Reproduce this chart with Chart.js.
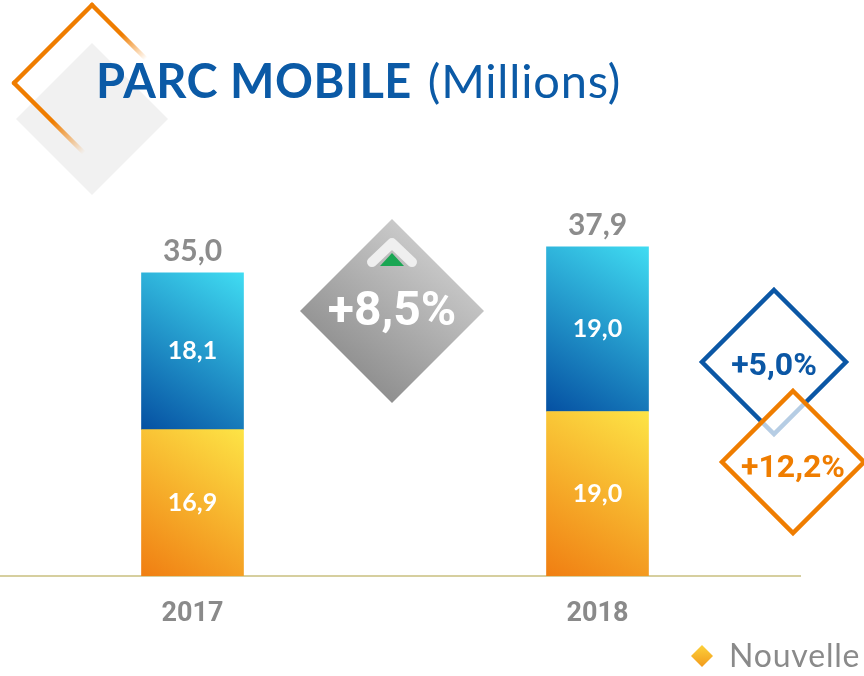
<!DOCTYPE html>
<html>
<head>
<meta charset="utf-8">
<script src="https://cdn.jsdelivr.net/npm/chart.js@4.4.1/dist/chart.umd.min.js"></script>
<style>
html, body { margin: 0; padding: 0; background: #fff; overflow: hidden; }
#wrap { position: relative; width: 864px; height: 676px; overflow: hidden; }
#parc { position: absolute; left: -10px; top: 0; }
.title { position: absolute; left: 96px; top: 57px; font-family: Lato, sans-serif; font-size: 47px; line-height: 47px; color: #0b5aa6; white-space: nowrap; }
.title b { font-weight: 700; letter-spacing: 0.5px; }
.title span { font-weight: 400; margin-left: 16px; letter-spacing: 0.8px; }
.pct { position: absolute; transform: translate(-50%, -50%); font-family: Roboto, sans-serif; font-weight: 700; white-space: nowrap; line-height: 1; }
.legend { position: absolute; left: 729px; top: 639px; font-family: Lato, sans-serif; font-size: 32px; line-height: 32px; color: #8a8a8a; white-space: nowrap; letter-spacing: 0.8px; }
</style>
</head>
<body>
<div id="wrap">
  <canvas id="parc" width="874" height="676"></canvas>
  <div class="title"><b>PARC MOBILE</b><span>(Millions)</span></div>
  <div class="pct" style="left:392px; top:309px; font-size:48px; color:#fff;">+8,5%</div>
  <div class="pct" style="left:774px; top:364px; font-size:32px; color:#0b57a5;">+5,0%</div>
  <div class="pct" style="left:793px; top:466px; font-size:32px; color:#ef7d00;">+12,2%</div>
  <div class="legend">Nouvelle</div>
</div>
<script>
// Data
const years = ['2017', '2018'];
const nouvelle = [16.9, 19.0];   // bottom segment (orange / yellow)
const existant = [18.1, 19.0];   // top segment (blue)
const totals = [35.0, 37.9];

function fmt(v) {
    return v.toFixed(1).replace('.', ',');
}

// Diagonal gradient for one bar segment, bottom-left -> top-right
function segGradient(context, colBottom, colTop) {
    const chart = context.chart;
    if (!chart.chartArea || !chart.scales.x) return colTop;
    const i = context.dataIndex;
    const ds = context.datasetIndex;
    const x = chart.scales.x.getPixelForValue(i);
    const yScale = chart.scales.y;
    const base = ds === 0 ? 0 : nouvelle[i];
    const top = ds === 0 ? nouvelle[i] : nouvelle[i] + existant[i];
    const g = chart.ctx.createLinearGradient(x - 51, yScale.getPixelForValue(base), x + 51, yScale.getPixelForValue(top));
    g.addColorStop(0, colBottom);
    g.addColorStop(1, colTop);
    return g;
}

// Diamond helper (page coordinates)
function diamondPath(ctx, cx, cy, r) {
    ctx.beginPath();
    ctx.moveTo(cx, cy - r);
    ctx.lineTo(cx + r, cy);
    ctx.lineTo(cx, cy + r);
    ctx.lineTo(cx - r, cy);
    ctx.closePath();
}

function fadeLine(ctx, x0, y0, x1, y1, color) {
    const g = ctx.createLinearGradient(x0, y0, x1, y1);
    g.addColorStop(0, color);
    g.addColorStop(0.55, color);
    g.addColorStop(1, 'rgba(239,125,0,0)');
    ctx.strokeStyle = g;
    ctx.beginPath();
    ctx.moveTo(x0, y0);
    ctx.lineTo(x1, y1);
    ctx.stroke();
}

const decorPlugin = {
    id: 'decor',
    afterDraw(chart) {
        const ctx = chart.ctx;
        ctx.save();
        ctx.translate(10, 0); // canvas is shifted 10px left

        // top-left light diamond
        ctx.fillStyle = '#f1f1f1';
        diamondPath(ctx, 92, 119, 76);
        ctx.fill();

        // orange outline fading out
        ctx.lineWidth = 4.5;
        ctx.lineCap = 'round';
        ctx.lineJoin = 'round';
        const orange = '#ef7d00';
        ctx.strokeStyle = orange;
        ctx.beginPath();
        ctx.moveTo(14, 83);
        ctx.lineTo(92, 5);
        ctx.stroke();
        fadeLine(ctx, 92, 5, 146, 59, orange);
        fadeLine(ctx, 14, 83, 84, 153, orange);

        // grey +8,5% diamond
        const gg = ctx.createLinearGradient(330, 390, 450, 235);
        gg.addColorStop(0, '#858585');
        gg.addColorStop(1, '#d2d2d2');
        ctx.fillStyle = gg;
        diamondPath(ctx, 392, 311, 92);
        ctx.fill();

        // chevron + green arrow
        ctx.strokeStyle = '#efefef';
        ctx.lineWidth = 10;
        ctx.lineCap = 'round';
        ctx.lineJoin = 'round';
        ctx.beginPath();
        ctx.moveTo(372, 262);
        ctx.lineTo(392, 243);
        ctx.lineTo(412, 262);
        ctx.stroke();
        ctx.fillStyle = '#1aa653';
        ctx.beginPath();
        ctx.moveTo(380, 266);
        ctx.lineTo(392, 253);
        ctx.lineTo(404, 266);
        ctx.closePath();
        ctx.fill();

        // blue outline diamond
        ctx.lineWidth = 4.5;
        ctx.lineJoin = 'miter';
        ctx.strokeStyle = '#0b57a5';
        diamondPath(ctx, 774, 362, 72);
        ctx.stroke();

        // orange outline diamond, translucent white fill over the blue one
        diamondPath(ctx, 793, 462, 71);
        ctx.fillStyle = 'rgba(255,255,255,0.7)';
        ctx.fill();
        ctx.strokeStyle = '#ef7d00';
        ctx.stroke();

        // legend marker
        const lg = ctx.createLinearGradient(702, 645, 702, 667);
        lg.addColorStop(0, '#fcd13a');
        lg.addColorStop(1, '#f29a1c');
        ctx.fillStyle = lg;
        diamondPath(ctx, 702, 656, 11);
        ctx.fill();

        ctx.restore();
    }
};

const valueLabels = {
    id: 'valueLabels',
    afterDatasetsDraw(chart) {
        const ctx = chart.ctx;
        ctx.save();
        ctx.textAlign = 'center';
        ctx.fillStyle = '#ffffff';
        ctx.font = 'bold 25px Lato, sans-serif';
        ctx.textBaseline = 'middle';
        chart.data.datasets.forEach((ds, d) => {
            chart.getDatasetMeta(d).data.forEach((bar, i) => {
                ctx.fillText(fmt(ds.data[i]), bar.x, (bar.y + bar.base) / 2);
            });
        });
        ctx.fillStyle = '#8c8c8c';
        ctx.font = 'bold 30px Lato, sans-serif';
        ctx.textBaseline = 'alphabetic';
        chart.getDatasetMeta(1).data.forEach((bar, i) => {
            ctx.fillText(fmt(totals[i]), bar.x, bar.y - 12);
        });
        ctx.restore();
    }
};

new Chart(document.getElementById('parc'), {
    type: 'bar',
    data: {
        labels: years,
        datasets: [
            {
                label: 'Nouvelle',
                data: nouvelle,
                backgroundColor: c => segGradient(c, '#f07e12', '#fde446'),
                barThickness: 102
            },
            {
                label: 'Existant',
                data: existant,
                backgroundColor: c => segGradient(c, '#0550a2', '#40dcf2'),
                barThickness: 102
            }
        ]
    },
    options: {
        responsive: false,
        animation: false,
        layout: { padding: { top: 143, right: 64, left: 0, bottom: 0 } },
        plugins: {
            legend: { display: false },
            tooltip: { enabled: false }
        },
        scales: {
            x: {
                stacked: true,
                grid: { display: false, drawTicks: false },
                border: { display: true, color: '#d6cf9f', width: 2 },
                ticks: {
                    padding: 22,
                    color: '#8a8a8a',
                    font: { family: 'Roboto', size: 27, weight: 'bold' }
                },
                afterFit: scale => { scale.height = 100; }
            },
            y: {
                stacked: true,
                display: false,
                min: 0,
                max: 50
            }
        }
    },
    plugins: [decorPlugin, valueLabels]
});
</script>
</body>
</html>
